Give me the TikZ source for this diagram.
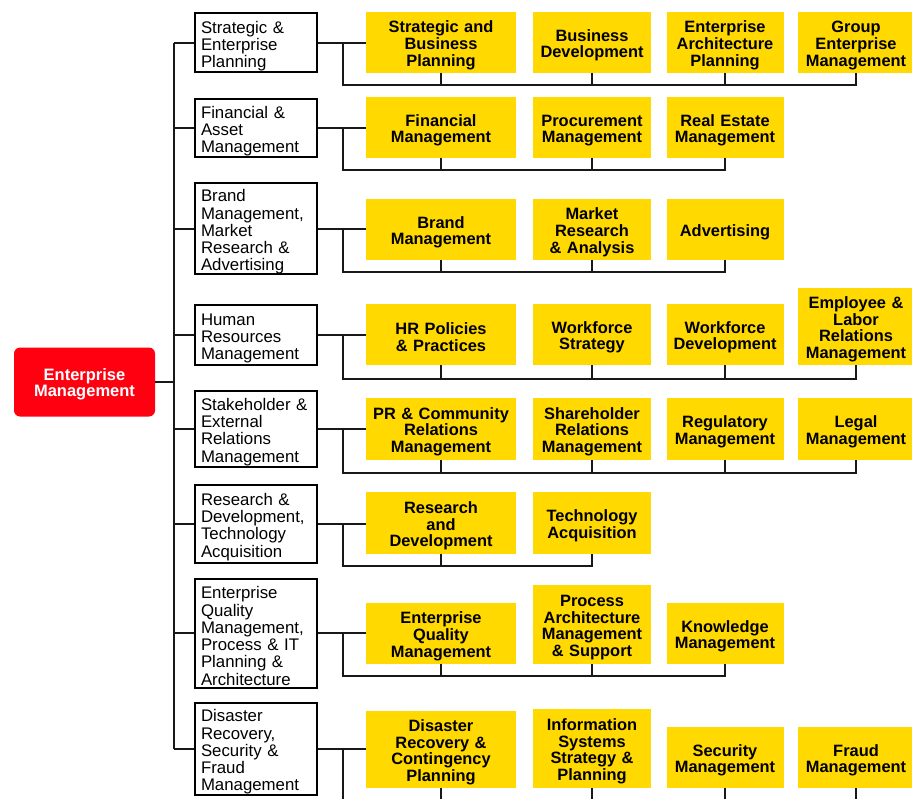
\documentclass[tikz,border=0pt]{standalone}
\usepackage{fontspec}
\setmainfont{Liberation Sans}
\definecolor{emred}{RGB}{255,0,16}
\definecolor{emyellow}{RGB}{255,217,0}
\definecolor{wirecol}{RGB}{24,24,24}

\begin{document}
\begin{tikzpicture}[x=1pt,y=-1pt,
  wire/.style={draw=wirecol, line width=2pt},
  rootbox/.style={fill=emred, rounded corners=6pt, text width=141pt,
    minimum height=69pt, inner sep=0pt, align=center, text=white,
    font=\fontsize{16.5}{16}\selectfont\bfseries,
    execute at begin node={\rule{0pt}{15.9pt}}},
  catbox/.style={draw=black, line width=2pt, fill=white, text width=110pt,
    inner xsep=6pt, inner ysep=0pt, align=left,
    font=\fontsize{16.8}{17.3}\selectfont,
    execute at begin node={\rule{0pt}{18.1pt}}},
  subbox/.style={fill=emyellow, anchor=south, inner sep=0pt, align=center,
    text=black, font=\fontsize{16.4}{16.8}\selectfont\bfseries,
    execute at begin node={\rule{0pt}{17.8pt}}},
  colA/.style={text width=150pt},
  colB/.style={text width=118pt},
  colC/.style={text width=117pt},
  colD/.style={text width=116pt},
]
\clip (0,0) rectangle (912,799);
\fill[white] (0,0) rectangle (912,799);

% root
\node[rootbox] (root) at (84.5,382) {Enterprise\\Management};

% category boxes
\node[catbox, minimum height=59pt] (k1) at (256,43) {Strategic \&\\Enterprise\\Planning};
\node[catbox, minimum height=58pt] (k2) at (256,128) {Financial \&\\Asset\\Management};
\node[catbox, minimum height=91pt] (k3) at (256,229) {Brand\\Management,\\Market\\Research \&\\Advertising};
\node[catbox, minimum height=60pt] (k4) at (256,335) {Human\\Resources\\Management};
\node[catbox, minimum height=76pt] (k5) at (256,429) {Stakeholder \&\\External\\Relations\\Management};
\node[catbox, minimum height=78pt] (k6) at (256,524) {Research \&\\Development,\\Technology\\Acquisition};
\node[catbox, minimum height=109pt] (k7) at (256,633) {Enterprise\\Quality\\Management,\\Process \& IT\\Planning \&\\Architecture};
\node[catbox, minimum height=92pt] (k8) at (256,749) {Disaster\\Recovery,\\Security \&\\Fraud\\Management};

% row 1
\node[subbox, colA, minimum height=61pt] (s11) at (441,73) {Strategic and\\Business\\Planning};
\node[subbox, colB, minimum height=61pt] (s12) at (592,73) {Business\\Development};
\node[subbox, colC, minimum height=61pt] (s13) at (725,73) {Enterprise\\Architecture\\Planning};
\node[subbox, colD, minimum height=61pt] (s14) at (856,73) {Group\\Enterprise\\Management};
% row 2
\node[subbox, colA, minimum height=61pt] (s21) at (441,158) {Financial\\Management};
\node[subbox, colB, minimum height=61pt] (s22) at (592,158) {Procurement\\Management};
\node[subbox, colC, minimum height=61pt] (s23) at (725,158) {Real Estate\\Management};
% row 3
\node[subbox, colA, minimum height=61pt] (s31) at (441,260) {Brand\\Management};
\node[subbox, colB, minimum height=61pt] (s32) at (592,260) {Market\\Research\\\& Analysis};
\node[subbox, colC, minimum height=61pt] (s33) at (725,260) {Advertising};
% row 4
\node[subbox, colA, minimum height=61pt] (s41) at (441,365) {HR Policies\\\& Practices};
\node[subbox, colB, minimum height=61pt] (s42) at (592,365) {Workforce\\Strategy};
\node[subbox, colC, minimum height=61pt] (s43) at (725,365) {Workforce\\Development};
\node[subbox, colD, minimum height=77pt] (s44) at (856,365) {Employee \&\\Labor\\Relations\\Management};
% row 5
\node[subbox, colA, minimum height=62pt] (s51) at (441,460) {PR \& Community\\Relations\\Management};
\node[subbox, colB, minimum height=62pt] (s52) at (592,460) {Shareholder\\Relations\\Management};
\node[subbox, colC, minimum height=62pt] (s53) at (725,460) {Regulatory\\Management};
\node[subbox, colD, minimum height=62pt] (s54) at (856,460) {Legal\\Management};
% row 6
\node[subbox, colA, minimum height=62pt] (s61) at (441,554) {Research\\and\\Development};
\node[subbox, colB, minimum height=62pt] (s62) at (592,554) {Technology\\Acquisition};
% row 7
\node[subbox, colA, minimum height=61pt] (s71) at (441,664) {Enterprise\\Quality\\Management};
\node[subbox, colB, minimum height=79pt] (s72) at (592,664) {Process\\Architecture\\Management\\\& Support};
\node[subbox, colC, minimum height=61pt] (s73) at (725,664) {Knowledge\\Management};
% row 8
\node[subbox, colA, minimum height=77pt] (s81) at (441,788) {Disaster\\Recovery \&\\Contingency\\Planning};
\node[subbox, colB, minimum height=79pt] (s82) at (592,788) {Information\\Systems\\Strategy \&\\Planning};
\node[subbox, colC, minimum height=61pt] (s83) at (725,788) {Security\\Management};
\node[subbox, colD, minimum height=61pt] (s84) at (856,788) {Fraud\\Management};

% trunk from the root to every category
\coordinate (tr) at (174,0);
\draw[wire] (root.east) -- (tr |- root.east);
\draw[wire] (tr |- k1.west) -- (tr |- k8.west);
\foreach \r in {1,...,8}{
  \draw[wire] (tr |- k\r.west) -- (k\r.west);
}

% category to its sub-functions, with a bus underneath each row
\coordinate (bx) at (343,0);
\foreach \r/\b/\n in {1/85/4, 2/170/3, 3/272/3, 4/379/4, 5/473/4, 6/566/2, 7/676/3, 8/812/4}{
  \coordinate (bus\r) at (343,\b);
  \draw[wire] (k\r.east) -- (k\r.east -| s\r1.west);
  \draw[wire] (bx |- k\r.east) -- (bus\r) -- (bus\r -| s\r\n.south) -- (s\r\n.south);
  \foreach \c in {1,...,\n}{
    \draw[wire] (s\r\c.south) -- (s\r\c.south |- bus\r);
  }
}
\end{tikzpicture}
\end{document}
